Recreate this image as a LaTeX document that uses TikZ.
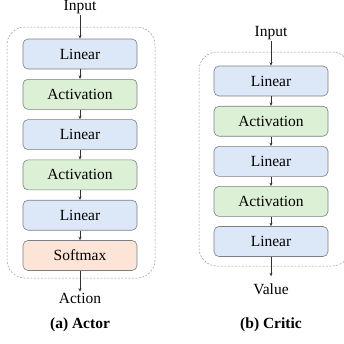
\documentclass[tikz,border=0pt]{standalone}
\usepackage{fontspec}
\setmainfont{Liberation Serif}[Ligatures=TeX]
\newfontfamily\timesfont{Liberation Serif}
\usetikzlibrary{arrows.meta}
\definecolor{lblue}{HTML}{DCE8F7}
\definecolor{lgreen}{HTML}{DCF0D6}
\definecolor{lorange}{HTML}{FCE4D6}
\definecolor{bordergray}{HTML}{7A7F85}
\definecolor{arrgray}{HTML}{333333}
\tikzset{
  txtfont/.style={font=\timesfont\fontsize{15.5}{18}\selectfont},
  layer/.style={draw=bordergray, line width=0.6pt, rounded corners=5pt, minimum width=114pt, minimum height=30pt, inner sep=0pt, txtfont},
  lin/.style={layer, fill=lblue},
  act/.style={layer, fill=lgreen},
  soft/.style={layer, fill=lorange},
  lbl/.style={inner sep=1pt, txtfont},
  captxt/.style={inner sep=1pt, font=\timesfont\fontsize{15.5}{18}\selectfont\bfseries},
  arr/.style={draw=arrgray, line width=0.7pt, -{Stealth[length=3.5pt,width=3pt]}},
  cont/.style={draw=gray!80, line width=0.5pt, dash pattern=on 2pt off 1.5pt, rounded corners=18pt}
}
\begin{document}
\begin{tikzpicture}[x=1pt,y=-1pt]
\useasboundingbox (0,0) rectangle (344,343);
\clip (0,0) rectangle (344,343);
% containers
\draw[cont] (7,27) rectangle (155,278);
\draw[cont] (199,52) rectangle (350,266);
% actor
\node[lbl] (ain) at (80,7.5) {Input};
\node[lin] (a1) at (80,54) {Linear};
\node[act] (a2) at (80,94.3) {Activation};
\node[lin] (a3) at (80,134.6) {Linear};
\node[act] (a4) at (80,174.9) {Activation};
\node[lin] (a5) at (80,215.2) {Linear};
\node[soft] (a6) at (80,255.5) {Softmax};
\node[lbl] (aout) at (80,298) {Action};
\node[captxt] (acap) at (80,325) {(a) Actor};
\draw[arr] (ain) -- (a1);
\draw[arr] (a1) -- (a2);
\draw[arr] (a2) -- (a3);
\draw[arr] (a3) -- (a4);
\draw[arr] (a4) -- (a5);
\draw[arr] (a5) -- (a6);
\draw[arr] (a6) -- (aout);
% critic
\node[lbl] (cin) at (271,33) {Input};
\node[lin] (c1) at (271,81) {Linear};
\node[act] (c2) at (271,121.2) {Activation};
\node[lin] (c3) at (271,161.4) {Linear};
\node[act] (c4) at (271,201.4) {Activation};
\node[lin] (c5) at (271,241.5) {Linear};
\node[lbl] (cout) at (271,289) {Value};
\node[captxt] (ccap) at (271,325) {(b) Critic};
\draw[arr] (cin) -- (c1);
\draw[arr] (c1) -- (c2);
\draw[arr] (c2) -- (c3);
\draw[arr] (c3) -- (c4);
\draw[arr] (c4) -- (c5);
\draw[arr, shorten >=6pt] (c5) -- (cout);
\end{tikzpicture}
\end{document}
